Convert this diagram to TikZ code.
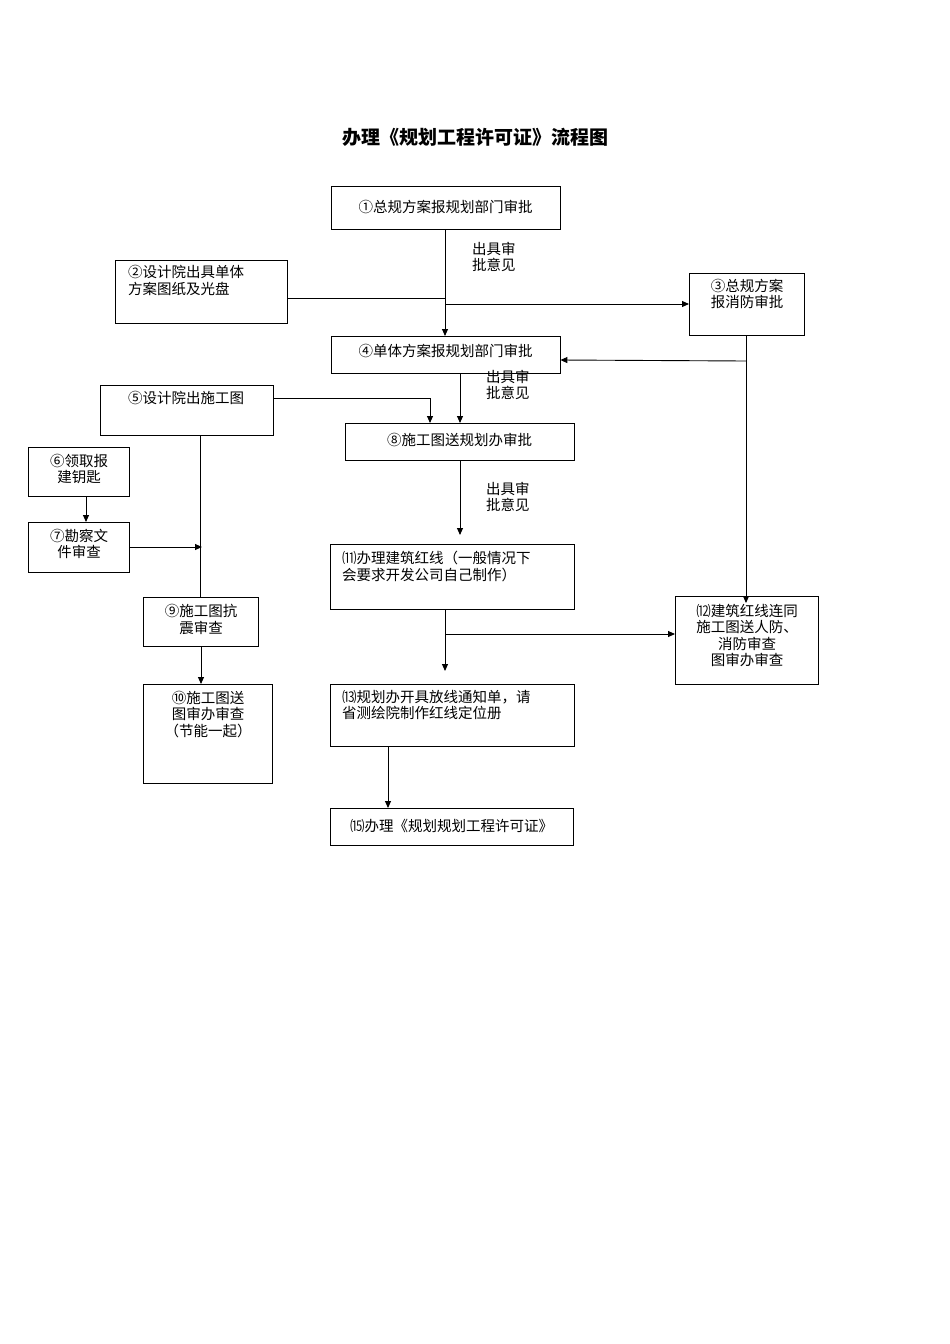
\documentclass[tikz,border=0pt]{standalone}
\usepackage{fontspec}
\setmainfont{Noto Sans CJK SC}
\usetikzlibrary{arrows.meta}
\begin{document}
\begin{tikzpicture}[x=1pt,y=-1pt,
  bx/.style={draw,line width=0.9pt,anchor=north west,minimum width=#1},
  tx/.style={font=\fontsize{14.5}{16.5}\selectfont,align=left,inner sep=0pt,anchor=north west},
  ar/.style={-{Triangle[length=7pt,width=6pt]},line width=0.9pt},
  ln/.style={line width=0.9pt}]
\useasboundingbox (0,0) rectangle (950,1344);
\node[font=\fontsize{19}{21}\selectfont\bfseries] (title) at (475,137) {办理《规划工程许可证》流程图};
\newcommand\bxx[6]{\draw[line width=0.9pt] (#2,#3) rectangle (#4,#5); \path (#2,#3) coordinate (#1nw) (#4,#5) coordinate (#1se);
  \node[inner sep=0pt,minimum width={(#4-#2)*1pt},minimum height={(#5-#3)*1pt},anchor=north west] (#1) at (#2,#3) {};}
\bxx{b1}{331}{186}{560}{229}{}
\bxx{b2}{115}{260}{287}{323}{}
\bxx{b3}{689}{273}{804}{335}{}
\bxx{b4}{331}{336}{560}{373}{}
\bxx{b5}{100}{385}{273}{435}{}
\bxx{b8}{345}{423}{574}{460}{}
\bxx{b6}{28}{447}{129}{496}{}
\bxx{b7}{28}{522}{129}{572}{}
\bxx{b11}{330}{544}{574}{609}{}
\bxx{b9}{143}{597}{258}{646}{}
\bxx{b12}{675}{596}{818}{684}{}
\bxx{b10}{143}{684}{272}{783}{}
\bxx{b13}{330}{684}{574}{746}{}
\bxx{b15}{330}{808}{573}{845}{}
\tikzset{tc/.style={font=\fontsize{14.5}{16.5}\selectfont,align=center,inner sep=0pt}}
\node[tc] (t1) at (445.5,207) {①总规方案报规划部门审批};
\node[tx] (t2) at (128,265) {②设计院出具单体\\方案图纸及光盘};
\node[tc,anchor=north] (t3) at (747,279) {③总规方案\\报消防审批};
\node[tc] (t4) at (445.5,351) {④单体方案报规划部门审批};
\node[tc,anchor=north] (t5) at (186,391) {⑤设计院出施工图};
\node[tc] (t8) at (459.5,440) {⑧施工图送规划办审批};
\node[tc,anchor=north] (t6) at (79,454) {⑥领取报\\建钥匙};
\node[tc,anchor=north] (t7) at (79,529) {⑦勘察文\\件审查};
\node[tx] (t11) at (342,551) {⑾办理建筑红线（一般情况下\\会要求开发公司自己制作）};
\node[tc,anchor=north] (t9) at (201,604) {⑨施工图抗\\震审查};
\node[tc,anchor=north] (t12) at (747,604) {⑿建筑红线连同\\施工图送人防、\\消防审查\\图审办审查};
\node[tc,anchor=north] (t10) at (208,691) {⑩施工图送\\图审办审查\\（节能一起）};
\node[tx] (t13) at (342,690) {⒀规划办开具放线通知单，请\\省测绘院制作红线定位册};
\node[tc] (t15) at (451.5,826) {⒂办理《规划规划工程许可证》};
\node[tx] (l1) at (472,242) {出具审\\批意见};
\node[tx] (l2) at (486,370) {出具审\\批意见};
\node[tx] (l3) at (486,482) {出具审\\批意见};
% connectors
\draw[ar] (b1.south -| 445,0) -- (445,336);
\coordinate (j1) at (445,298);
\draw[ln] (b2.east |- j1) -- (j1);
\draw[ar] (445,304) -- (b3.west |- 0,304);
\draw[ar] (b3.south -| 746,0) -- (746,603);
\draw[ar] (746,361) -- (b4.east |- 0,360);
\draw[ar] (b4.south -| 460,0) -- (b8.north -| 460,0);
\draw[ar] (b5.east |- 0,398) -- (430,398) -- (b8.north -| 430,0);
\draw[ln] (b5.south -| 200,0) -- (b9.north -| 200,0);
\draw[ar] (b7.east |- 0,547) -- (202,547);
\draw[ar] (b6.south -| 86,0) -- (b7.north -| 86,0);
\coordinate (e8) at (460,535);
\draw[ar] (b8.south -| e8) -- (e8);
\coordinate (e11) at (445,671);
\draw[ar] (b11.south -| e11) -- (e11);
\draw[ar] (445,634) -- (b12.west |- 0,634);
\draw[ar] (b9.south -| 201,0) -- (b10.north -| 201,0);
\draw[ar] (b13.south -| 388,0) -- (b15.north -| 388,0);
\end{tikzpicture}
\end{document}
